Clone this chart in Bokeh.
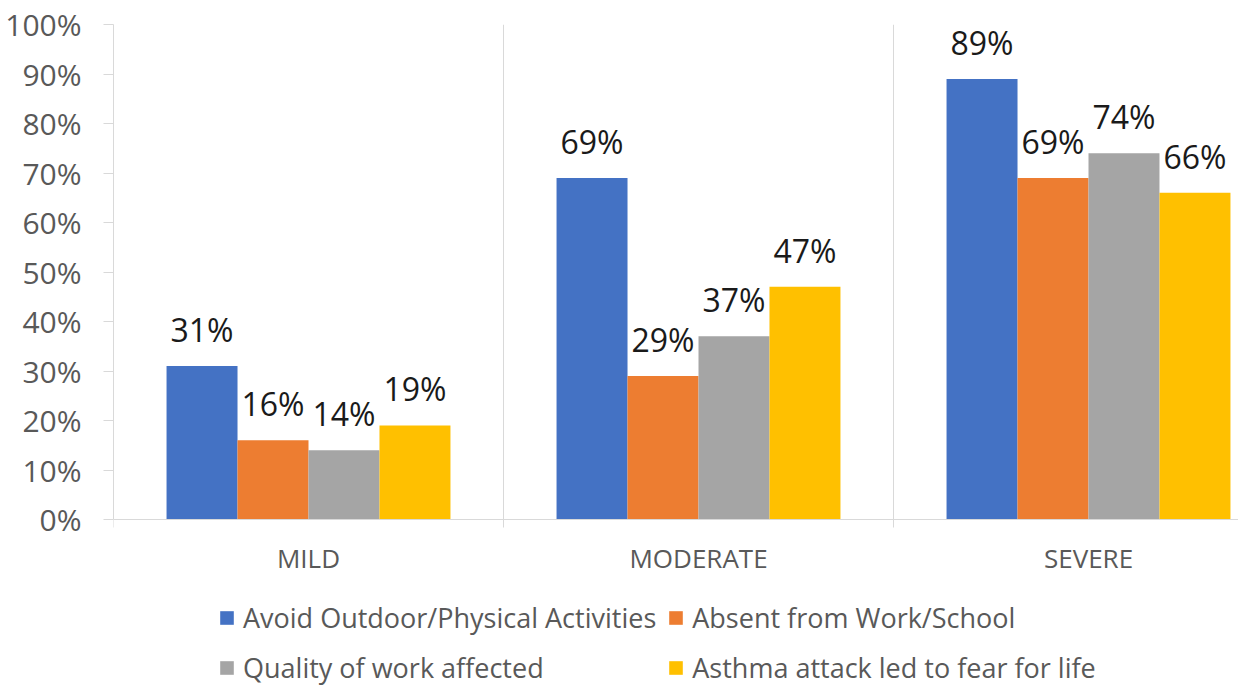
from bokeh.plotting import figure
from bokeh.models import (ColumnDataSource, Range1d, FixedTicker, NumeralTickFormatter,
                          LabelSet, Legend, LegendItem, Span)
from bokeh.core.properties import value
from bokeh.transform import dodge
from bokeh.embed import file_html
from bokeh.resources import INLINE

categories = ["MILD", "MODERATE", "SEVERE"]
series_names = ["Avoid Outdoor/Physical Activities", "Absent from Work/School",
                "Quality of work affected", "Asthma attack led to fear for life"]
avoid = [0.31, 0.69, 0.89]
absent = [0.16, 0.29, 0.69]
quality = [0.14, 0.37, 0.74]
fear = [0.19, 0.47, 0.66]
series_values = [avoid, absent, quality, fear]
colors = ["#4472C4", "#ED7D31", "#A5A5A5", "#FFC000"]
y_ticks = [0, 0.1, 0.2, 0.3, 0.4, 0.5, 0.6, 0.7, 0.8, 0.9, 1.0]

FONT = "Open Sans"
W, H = 1238, 687
TOP, LEFT = 24, 113
PLOT_PX = 495                      # pixels for 0..100 %
PX = 1.0 / PLOT_PX                 # one pixel in y data units
BELOW_PX = H - TOP - PLOT_PX       # room under the 0 % line (category labels + legend)
CAT_PX = 390                       # pixels per category

xc = [i + 0.5 for i in range(len(categories))]

p = figure(width=W, height=H, output_backend="svg", toolbar_location=None,
           x_range=Range1d(0, (W - LEFT) / CAT_PX),
           y_range=Range1d(-BELOW_PX * PX, 1),
           x_axis_location=None,
           min_border_left=LEFT, min_border_top=TOP, min_border_right=0, min_border_bottom=0)
p.outline_line_color = None
p.grid.visible = False

# x axis line, category separators and their small ticks
p.add_layout(Span(location=0, dimension="width", line_color="#d9d9d9", line_width=1))
bounds = list(range(len(categories) + 1))
p.segment(x0=bounds, y0=[-8 * PX] * len(bounds), x1=bounds,
          y1=[1 if b not in (0, len(categories)) else 0 for b in bounds],
          line_color="#d9d9d9", line_width=1)

# category labels
p.text(x=xc, y=[-38 * PX] * len(xc), text=categories, text_align="center",
       text_baseline="middle", text_font=value(FONT), text_font_size="26px",
       text_color="#595959")

bar_w = 0.182
offsets = [-1.5 * bar_w, -0.5 * bar_w, 0.5 * bar_w, 1.5 * bar_w]
items = []
for name, vals, col, off in zip(series_names, series_values, colors, offsets):
    src = ColumnDataSource(dict(x=xc, y=vals, lbl=[f"{round(v*100)}%" for v in vals]))
    r = p.vbar(x=dodge("x", off, range=p.x_range), top="y", width=bar_w, source=src,
               fill_color=col, line_color=None)
    items.append(LegendItem(label=name, renderers=[r]))
    p.add_layout(LabelSet(x=dodge("x", off, range=p.x_range), y="y", text="lbl", source=src,
                          text_align="center", text_baseline="alphabetic", y_offset=24,
                          text_font=value(FONT), text_font_size="32px", text_color="#1a1a1a"))

# y axis
ya = p.yaxis[0]
ya.bounds = (0, 1)
ya.ticker = FixedTicker(ticks=y_ticks, minor_ticks=[])
ya.formatter = NumeralTickFormatter(format="0%")
ya.axis_line_color = "#d9d9d9"
ya.major_tick_line_color = "#d9d9d9"
ya.major_tick_out = 10
ya.major_tick_in = 0
ya.minor_tick_line_color = None
ya.major_label_standoff = 22
ya.major_label_text_font = FONT
ya.major_label_text_font_size = "30px"
ya.major_label_text_color = "#595959"

legend = Legend(items=items, orientation="horizontal", ncols=2, location=(105, 0),
                label_text_font=FONT, label_text_font_size="27px", label_text_color="#595959",
                glyph_width=17, glyph_height=17, label_standoff=8, spacing=11,
                label_height=39, padding=0, margin=0, border_line_color=None,
                background_fill_alpha=0)
p.add_layout(legend, "center")

open("out.html", "w").write(file_html(p, INLINE))
